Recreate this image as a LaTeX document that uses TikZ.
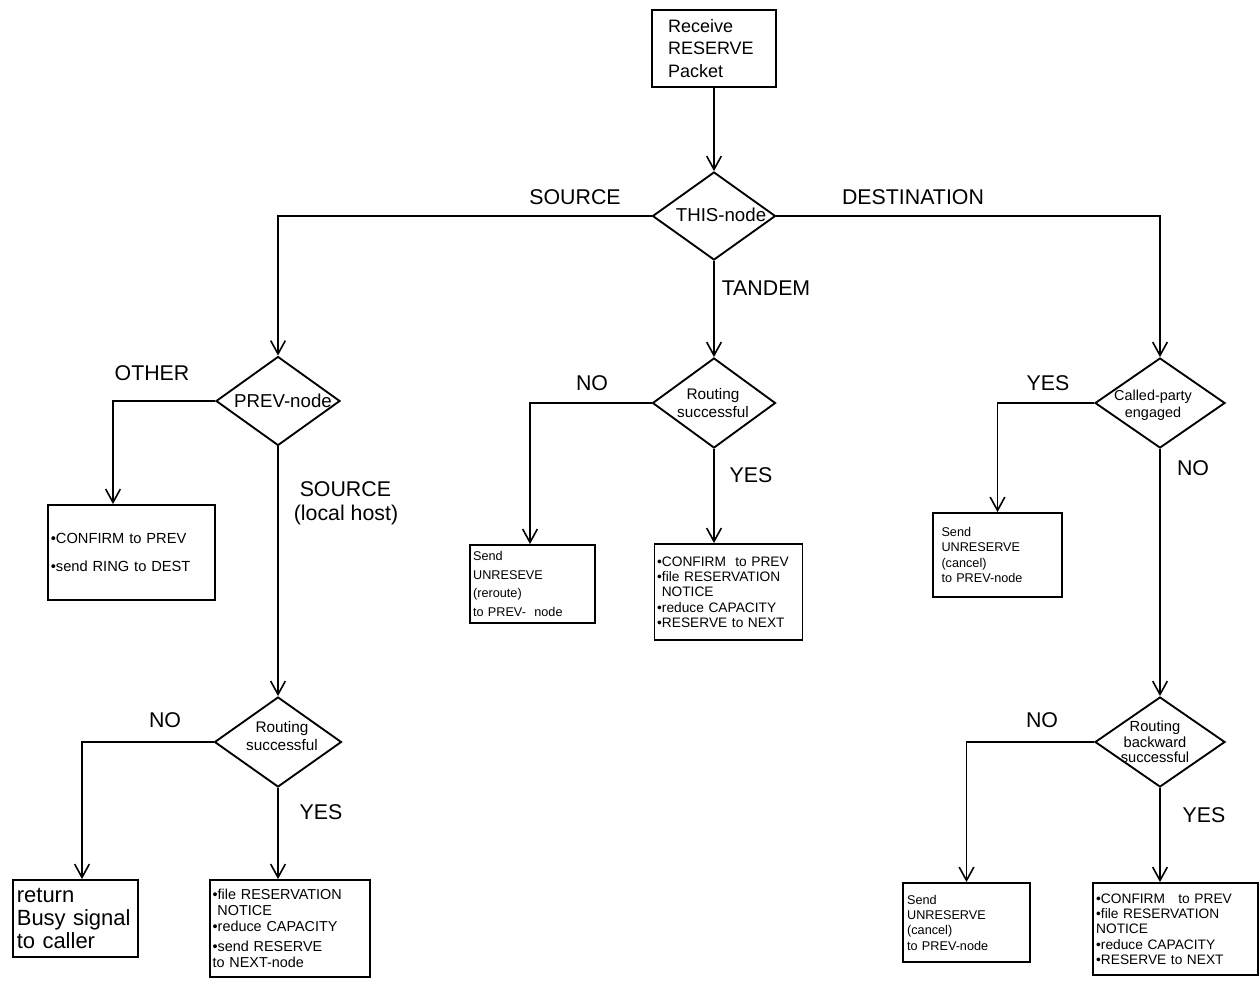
\documentclass[tikz,border=0pt]{standalone}
\usepackage{fontspec}
\setmainfont{Liberation Sans}
\usetikzlibrary{shapes.geometric,arrows.meta,calc}
\begin{document}
\begin{tikzpicture}[x=0.75pt,y=-0.75pt,
  ln/.style={line width=1.4pt},
  arr/.style={ln,-{Straight Barb[length=10pt,width=11pt,line width=1.2pt]}},
  dia/.style={draw,ln,diamond,inner sep=0pt},
  box/.style={draw,ln,inner ysep=0pt,align=left},
  big/.style={font=\fontsize{16}{18}\selectfont},
  dtxt/.style={font=\fontsize{14}{16}\selectfont},
  stxt/.style={font=\fontsize{11.5}{13}\selectfont,align=center},
  btxt/.style={font=\fontsize{9.5}{11.5}\selectfont},
  ltxt/.style={font=\fontsize{10.3}{11.5}\selectfont}
]
\useasboundingbox (0,0) rectangle (1260,982);

% start box
\node[box, minimum width=93pt, minimum height=57.75pt, inner xsep=12pt, text width=69pt,
      font=\fontsize{13.5}{17}\selectfont] (recv) at (714,48.5) {Receive\\RESERVE\\Packet};

% diamonds
\node[dia, minimum width=92.25pt, minimum height=66pt] (this) at (714,216) {};
\node[dtxt] (thist) at (721,215) {THIS-node};
\node[dia, minimum width=93pt, minimum height=66.75pt] (prev) at (278,401) {};
\node[dtxt] (prevt) at (283,401) {PREV-node};
\node[dia, minimum width=92.25pt, minimum height=67.5pt] (rt) at (714,403) {};
\node[stxt] (rtt) at (713,403) {Routing\\successful};
\node[dia, minimum width=97.5pt, minimum height=67.5pt] (cp) at (1160,403) {};
\node[stxt, font=\fontsize{10.8}{12.5}\selectfont] (cpt) at (1153,405) {Called-party\\engaged};
\node[dia, minimum width=95.25pt, minimum height=67.5pt] (rs) at (278,742) {};
\node[stxt] (rst) at (282,736) {Routing\\successful};
\node[dia, minimum width=97.5pt, minimum height=67.5pt] (rb) at (1160,742) {};
\node[stxt, font=\fontsize{11}{11.5}\selectfont] (rbt) at (1155,742) {Routing\\backward\\successful};

% action boxes
\node[box, minimum width=125.25pt, minimum height=71.25pt, inner xsep=2pt, text width=121pt,
      font=\fontsize{11}{12}\selectfont]
  (b1) at (131.5,552.5) {•CONFIRM to PREV\\[9pt]•send RING to DEST};
\node[box, minimum width=93.75pt, minimum height=57.75pt, inner xsep=3pt, text width=88pt,
      font=\fontsize{16.5}{17.5}\selectfont]
  (b2) at (75.5,918.5) {return\\Busy signal\\to caller};
\node[box, minimum width=120pt, minimum height=72.75pt, inner xsep=2pt, text width=116pt,
      font=\fontsize{10.8}{12}\selectfont]
  (b3) at (290,928.5) {•file RESERVATION\\\ NOTICE\\•reduce CAPACITY\\[3pt]•send RESERVE\\to NEXT-node};
\node[box, minimum width=93.75pt, minimum height=58.5pt, inner xsep=2pt, text width=89pt,
      font=\fontsize{9.5}{14}\selectfont]
  (b4) at (532.5,584) {Send\\UNRESEVE\\(reroute)\\to PREV-\ \ node};
\node[box, minimum width=110.25pt, minimum height=72pt, inner xsep=2pt, text width=107pt, ltxt]
  (b5) at (728.5,592) {•CONFIRM\hspace{7pt}to PREV\\•file RESERVATION\\\ NOTICE\\•reduce CAPACITY\\•RESERVE to NEXT};
\node[box, minimum width=96.75pt, minimum height=63pt, inner xsep=6pt, text width=84pt, btxt]
  (b6) at (997.5,555) {Send\\UNRESERVE\\(cancel)\\to PREV-node};
\node[box, minimum width=95.25pt, minimum height=59.25pt, inner xsep=3pt, text width=89pt, btxt]
  (b7) at (966.5,922.5) {Send\\UNRESERVE\\(cancel)\\to PREV-node};
\node[box, minimum width=123.75pt, minimum height=69pt, inner xsep=2pt, text width=119pt, ltxt]
  (b8) at (1175.5,929) {•CONFIRM\hspace{10pt}to PREV\\•file RESERVATION\\NOTICE\\•reduce CAPACITY\\•RESERVE to NEXT};

% connectors
\draw[arr] (recv.south) -- (this.north);
\draw[arr] (this.west) -| (prev.north);
\draw[arr] (this.east) -| (cp.north);
\draw[arr] (this.south) -- (rt.north);
\draw[arr] (prev.west) -| ($(b1.north)+(-18.5,0)$);
\draw[arr] (prev.south) -- (rs.north);
\draw[arr] (rs.west) -| ($(b2.north)+(6.5,0)$);
\draw[arr] (rs.south) -- (rs.south |- b3.north);
\draw[arr] (rt.west) -| ($(b4.north)+(-2.5,0)$);
\draw[arr] (rt.south) -- (rt.south |- b5.north);
\draw[arr] (cp.west) -| (b6.north);
\draw[arr] (cp.south) -- (rb.north);
\draw[arr] (rb.west) -| (b7.north);
\draw[arr] (rb.south) -- (rb.south |- b8.north);

% branch labels
\node[big] (l1) at (575,197) {SOURCE};
\node[big] (l2) at (913,197) {DESTINATION};
\node[big] (l3) at (766,288) {TANDEM};
\node[big] (l4) at (152,373) {OTHER};
\node[big, align=left] (l5) at (346,503) {\ SOURCE\\(local host)};
\node[big] (l6) at (592,383) {NO};
\node[big] (l7) at (751,475) {YES};
\node[big] (l8) at (1048,383) {YES};
\node[big] (l9) at (1193,468) {NO};
\node[big] (l10) at (165,720) {NO};
\node[big] (l11) at (321,812) {YES};
\node[big] (l12) at (1042,720) {NO};
\node[big] (l13) at (1204,815) {YES};
\end{tikzpicture}
\end{document}
